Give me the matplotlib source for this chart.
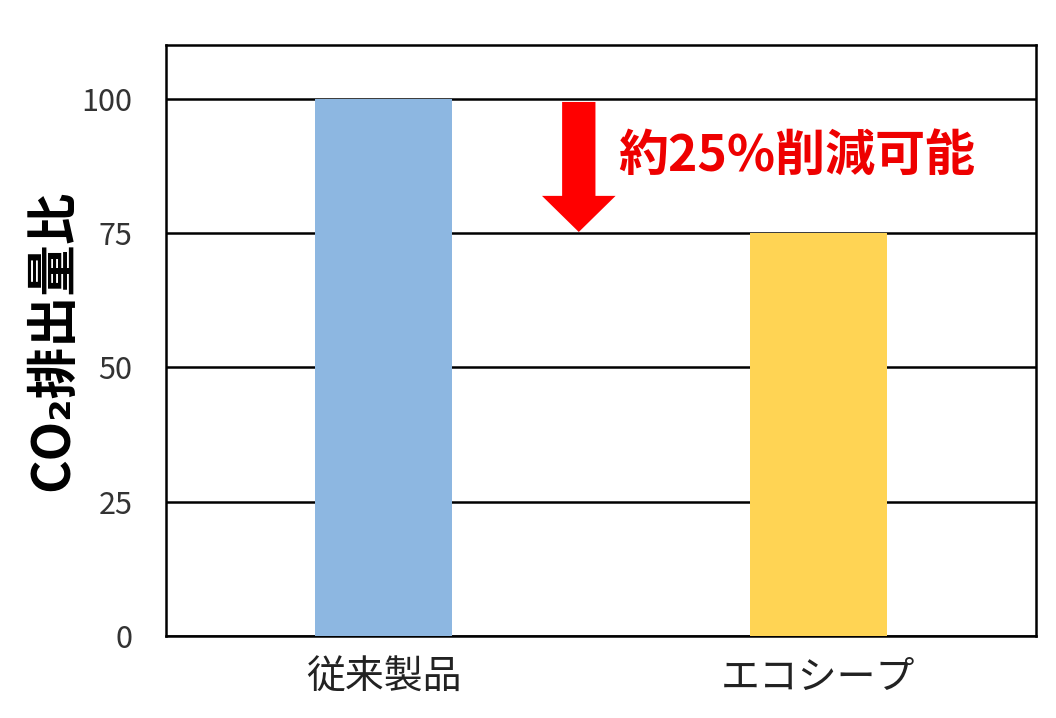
import matplotlib
matplotlib.use("Agg")
import matplotlib.pyplot as plt

plt.rcParams['font.family'] = ['Noto Sans CJK JP', 'DejaVu Sans']

categories = ['従来製品', 'エコシープ']
values = [100, 75]
bar_colors = ['#8DB7E1', '#FFD454']
yticks = [0, 25, 50, 75, 100]
note = '約25%削減可能'

fig = plt.figure(figsize=(10.56, 7.18), dpi=100)
ax = fig.add_axes([0.1572, 0.1142, 0.8238, 0.8231])

x = range(len(categories))
ax.bar(x, values, width=0.315, color=bar_colors, zorder=3)
ax.set_xlim(-0.5, 1.5)
ax.set_ylim(0, 110)
ax.set_yticks(yticks)
ax.set_xticks(list(x))
ax.set_xticklabels(categories, fontsize=28, color='#222222')
ax.yaxis.grid(True, color='black', linewidth=1.8, zorder=1)
ax.set_axisbelow(True)
ax.tick_params(axis='y', length=0, pad=24, labelsize=22, labelcolor='#333333')
ax.tick_params(axis='x', length=0, pad=16)
for s in ax.spines.values():
    s.set_color('black')
    s.set_linewidth(1.8)

ax.set_ylabel('CO₂排出量比', fontsize=37, fontweight='bold', labelpad=2)

# arrow + label
ax.annotate('', xy=(0.449, 75.2), xytext=(0.449, 99.4),
            arrowprops=dict(arrowstyle='simple,head_length=26,head_width=53,tail_width=24',
                            mutation_scale=1, color='#FF0000', shrinkA=0, shrinkB=0, lw=0),
            zorder=4)
ax.text(0.539, 89.2, note, fontsize=36, fontweight='bold', color='#EE0000',
        ha='left', va='center', zorder=4)

fig.savefig('out.png', dpi=100)
